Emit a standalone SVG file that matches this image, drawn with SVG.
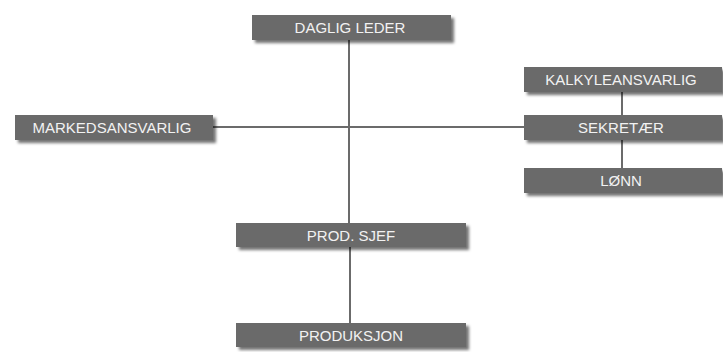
<svg xmlns="http://www.w3.org/2000/svg" width="723" height="352" viewBox="0 0 723 352">
<style>
.box{fill:#6b6b6b;filter:url(#sh)}
.lbl{fill:#f2f2f2;font-family:"Liberation Sans",Arial,sans-serif;font-size:15px;text-anchor:middle}
.con{stroke:#6b6b6b;stroke-width:2;fill:none}
</style>
<defs>
<filter id="sh" x="-10%" y="-40%" width="125%" height="190%">
<feDropShadow dx="3" dy="3" stdDeviation="1.6" flood-color="#000" flood-opacity="0.55"/>
</filter>
</defs>
<rect width="723" height="352" fill="#fff"/>
<g id="connectors">
<line class="con" x1="349" y1="40" x2="349" y2="223"/>
<line class="con" x1="350" y1="247" x2="350" y2="323"/>
<line class="con" x1="213" y1="127" x2="524" y2="127"/>
<line class="con" x1="622" y1="92" x2="622" y2="168"/>
</g>
<g id="daglig-leder"><rect class="box" x="252" y="15" width="199" height="25"/><text class="lbl" x="350" y="33">DAGLIG LEDER</text></g>
<g id="markedsansvarlig"><rect class="box" x="15" y="115" width="198" height="25"/><text class="lbl" x="112" y="133">MARKEDSANSVARLIG</text></g>
<g id="kalkyleansvarlig"><rect class="box" x="524" y="67" width="198" height="25"/><text class="lbl" x="621" y="85">KALKYLEANSVARLIG</text></g>
<g id="sekretaer"><rect class="box" x="524" y="115" width="198" height="25"/><text class="lbl" x="621" y="133">SEKRETÆR</text></g>
<g id="lonn"><rect class="box" x="524" y="168" width="198" height="25"/><text class="lbl" x="621" y="186">LØNN</text></g>
<g id="prod-sjef"><rect class="box" x="236" y="223" width="230" height="24"/><text class="lbl" x="351" y="240.5">PROD. SJEF</text></g>
<g id="produksjon"><rect class="box" x="236" y="323" width="230" height="24"/><text class="lbl" x="351" y="340.5">PRODUKSJON</text></g>
</svg>
